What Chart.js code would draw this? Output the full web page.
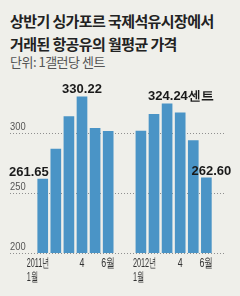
<!DOCTYPE html>
<html>
<head>
<meta charset="utf-8">
<script src="https://cdn.jsdelivr.net/npm/chart.js@4"></script>
<style>
  html, body { margin: 0; padding: 0; }
  body { width: 240px; height: 296px; background: #efefea; position: relative; overflow: hidden;
         font-family: "Noto Sans CJK KR", "Noto Sans", sans-serif; }
  .title { position: absolute; left: 10px; top: 9px; font-size: 15px; font-weight: bold; color: #222;
           line-height: 23px; letter-spacing: -0.6px; white-space: nowrap; }
  .unit { position: absolute; left: 10px; top: 52px; font-size: 13px; color: #555; letter-spacing: -0.5px; }
  #chart { position: absolute; left: 0; top: 0; }
</style>
</head>
<body>
<div class="title">상반기 싱가포르 국제석유시장에서<br>거래된 항공유의 월평균 가격</div>
<div class="unit">단위: 1갤런당 센트</div>
<canvas id="chart" width="240" height="296"></canvas>
<script>
// monthly average jet fuel price, cents per gallon
const months = ["1", "2", "3", "4", "5", "6", "1", "2", "3", "4", "5", "6"];
const years = [2011, 2011, 2011, 2011, 2011, 2011, 2012, 2012, 2012, 2012, 2012, 2012];
const prices = [261.65, 286.7, 313.6, 330.22, 303.9, 301.4, 301.7, 315.6, 324.24, 316.9, 293.6, 262.60];
const yTicks = [200, 250, 300];
// labelled points: index -> text
const valueLabels = { 0: "261.65", 3: "330.22", 8: "324.24센트", 11: "262.60" };
const xLabels = { 0: ["2011년", "1월"], 3: ["4"], 5: ["6월"], 6: ["2012년", "1월"], 9: ["4"], 11: ["6월"] };

// gap between the two years
const xPos = months.map((m, i) => i < 6 ? i : i + 1.5);

const numFont = '"Liberation Sans", Arial, sans-serif';

// squeezed text, like the narrow face of the original
function narrowText(ctx, txt, x, y, align, sx) {
  ctx.save();
  ctx.translate(x, y);
  ctx.scale(sx, 1);
  ctx.textAlign = align;
  ctx.fillText(txt, 0, 0);
  ctx.restore();
}

const labelPlugin = {
  id: "labels",
  afterDatasetsDraw(chart) {
    const ctx = chart.ctx;
    const meta = chart.getDatasetMeta(0);
    const xs = chart.scales.x;
    const ys = chart.scales.y;
    ctx.save();
    ctx.textBaseline = "middle";

    // y tick labels, sitting on their grid lines
    ctx.fillStyle = "#555";
    ctx.font = "11px " + numFont;
    ys.ticks.forEach(t => {
      narrowText(ctx, String(t.value), chart.chartArea.left, ys.getPixelForValue(t.value) - 6, "left", 0.85);
    });

    // value annotations
    ctx.fillStyle = "#1a1a1a";
    ctx.font = "bold 13px " + numFont;
    Object.keys(valueLabels).forEach(k => {
      const i = +k;
      const bar = meta.data[i];
      const txt = valueLabels[k];
      if (i === 0) {
        ctx.textAlign = "right";
        ctx.fillText(txt, bar.x + 6, bar.y - 7);
      } else if (i === 8) {
        ctx.textAlign = "left";
        ctx.fillText(txt, bar.x - 19, bar.y - 7);
      } else if (i === 11) {
        ctx.textAlign = "center";
        ctx.fillText(txt, bar.x + 5, bar.y - 6);
      } else {
        ctx.textAlign = "center";
        ctx.fillText(txt, bar.x, bar.y - 7);
      }
    });

    // x labels
    ctx.fillStyle = "#333";
    ctx.font = "13px " + numFont;
    Object.keys(xLabels).forEach(k => {
      const i = +k;
      const lines = xLabels[k];
      const x = xs.getPixelForValue(xPos[i]);
      const y0 = ys.getPixelForValue(200) + 10;
      if (lines.length > 1) {
        const left = i === 0 ? x - 16 : x - 8;
        lines.forEach((l, j) => narrowText(ctx, l, left, y0 + j * 14, "left", 0.56));
      } else {
        narrowText(ctx, lines[0], x, y0, "center", 0.68);
      }
    });
    ctx.restore();
  }
};

new Chart(document.getElementById("chart"), {
  type: "bar",
  data: {
    datasets: [{
      data: prices.map((p, i) => ({ x: xPos[i], y: p })),
      backgroundColor: "#4a94c6",
      barThickness: 10,
      borderWidth: 0
    }]
  },
  options: {
    responsive: false,
    animation: false,
    layout: { padding: { left: 10, right: 14, top: 73, bottom: 43 } },
    plugins: { legend: { display: false }, tooltip: { enabled: false } },
    scales: {
      x: {
        type: "linear",
        min: -2.5,
        max: 14,
        offset: false,
        grid: { offset: false },
        display: false
      },
      y: {
        min: 200,
        max: 350,
        afterBuildTicks: s => { s.ticks = yTicks.map(v => ({ value: v })); },
        afterFit: s => { s.width = 0; },
        border: { display: false, dash: [1, 2] },
        grid: { color: "#8f8f8f", lineWidth: 1, drawTicks: false },
        ticks: { display: false }
      }
    }
  },
  plugins: [labelPlugin]
});
</script>
</body>
</html>
